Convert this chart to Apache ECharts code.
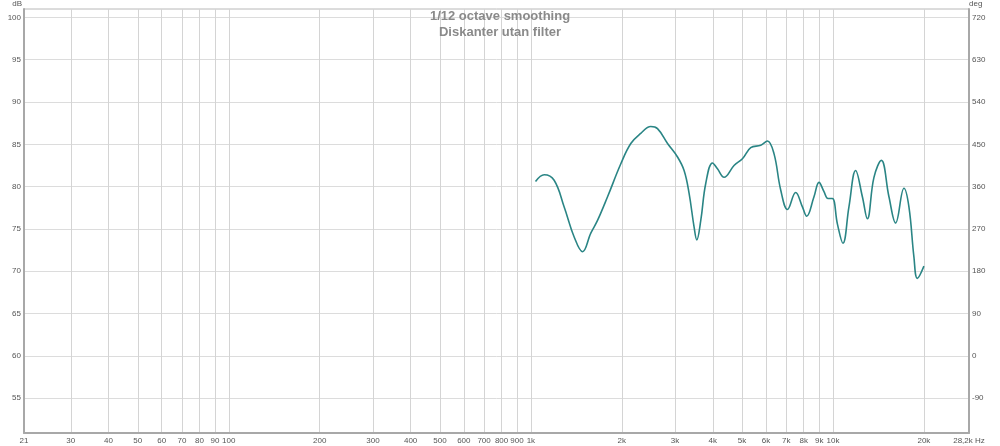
<!DOCTYPE html>
<html>
<head>
<meta charset="utf-8">
<script src="https://cdn.jsdelivr.net/npm/echarts@6/dist/echarts.min.js"></script>
<style>html,body{margin:0;padding:0;background:#fff}#c{width:1000px;height:446px}</style>
</head>
<body>
<div id="c"></div>
<script>
// Frequency (Hz) and SPL (dB)
const freqHz = [1036,1107,1194,1289,1391,1483,1579,1662,1794,1985,2142,2311,2494,2625,2834,3058,3215,3340,3470,3541,3651,3793,3992,4146,4360,4704,5015,5343,5766,6067,6379,6714,7068,7526,7922,8185,8652,8990,9338,9626,9954,10341,10792,11294,11886,12512,12996,13666,14459,15320,16123,17177,17841,18531,19020,20000];
const splDb = [80.6,81.4,80.75,77.6,74.05,72.3,74.5,76.0,78.8,82.7,85.1,86.3,87.1,86.85,85.1,83.5,81.9,79.2,75.2,73.7,76.0,80.4,82.8,82.1,81.1,82.5,83.3,84.6,84.9,85.4,83.9,79.6,77.3,79.3,77.6,76.5,78.8,80.5,79.4,78.6,78.6,75.6,73.3,77.6,81.9,78.8,76.2,81.1,83.1,78.8,75.7,79.8,77.6,71.7,69.15,70.6];
const xTicks = [21,30,40,50,60,70,80,90,100,200,300,400,500,600,700,800,900,1000,2000,3000,4000,5000,6000,7000,8000,9000,10000,20000,28200];
const dbTicks = [55,60,65,70,75,80,85,90,95,100];
const degTicks = [-90,0,90,180,270,360,450,540,630,720];
const titleLines = ['1/12 octave smoothing','Diskanter utan filter'];

const dbMin = 50.87, dbMax = 101.0;
const toDeg = v => (v - 60) * 18;
const labelStyle = {color:'#555', fontSize:8, fontFamily:'Liberation Sans'};
const axisLineStyle = {lineStyle:{color:'#a8a8a8', width:2}};

const chart = echarts.init(document.getElementById('c'), null, {renderer:'canvas'});
chart.setOption({
  animation:false,
  backgroundColor:'#fff',
  title:{
    text: titleLines.join('\n'),
    left:'center', top:8, padding:0,
    textStyle:{color:'#8a8a8a', fontSize:13, fontWeight:'bold', fontFamily:'Liberation Sans', lineHeight:16}
  },
  grid:{left:24, right:31, top:9, bottom:13, show:true, borderColor:'#b8b8b8', borderWidth:1},
  xAxis:{
    type:'log', logBase:10, min:21, max:28200,
    axisLine:{show:true, onZero:false, ...axisLineStyle},
    axisTick:{show:false, customValues:xTicks},
    splitLine:{show:true, lineStyle:{color:'#d4d4d4', width:1}},
    minorSplitLine:{show:false},
    axisLabel:{
      ...labelStyle, margin:4, customValues:xTicks, showMinLabel:true, showMaxLabel:true,
      formatter: v => {
        if (Math.abs(v - 28200) < 1) return '28,2k Hz';
        if (v >= 1000) return (v/1000) + 'k';
        return String(v);
      }
    }
  },
  yAxis:[{
    type:'value', min:dbMin, max:dbMax, position:'left',
    name:'dB', nameLocation:'end', nameGap:5,
    nameTextStyle:{...labelStyle, align:'right', verticalAlign:'middle', padding:[0,2,0,0]},
    axisLine:{show:true, ...axisLineStyle},
    axisTick:{show:false, customValues:dbTicks},
    splitLine:{show:true, lineStyle:{color:'#dcdcdc', width:1}},
    axisLabel:{...labelStyle, margin:3, customValues:dbTicks}
  },{
    type:'value', min:toDeg(dbMin), max:toDeg(dbMax), position:'right',
    name:'deg', nameLocation:'end', nameGap:5,
    nameTextStyle:{...labelStyle, align:'left', verticalAlign:'middle', padding:[0,0,0,0]},
    axisLine:{show:true, ...axisLineStyle},
    axisTick:{show:false, customValues:degTicks},
    splitLine:{show:false},
    axisLabel:{...labelStyle, margin:3, customValues:degTicks}
  }],
  series:[{
    type:'line', yAxisIndex:0,
    data: freqHz.map((f,i)=>[f, splDb[i]]),
    showSymbol:false, smooth:0.4,
    lineStyle:{color:'#2a8585', width:1.6},
    itemStyle:{color:'#2a8585'}
  }]
});
</script>
</body>
</html>
